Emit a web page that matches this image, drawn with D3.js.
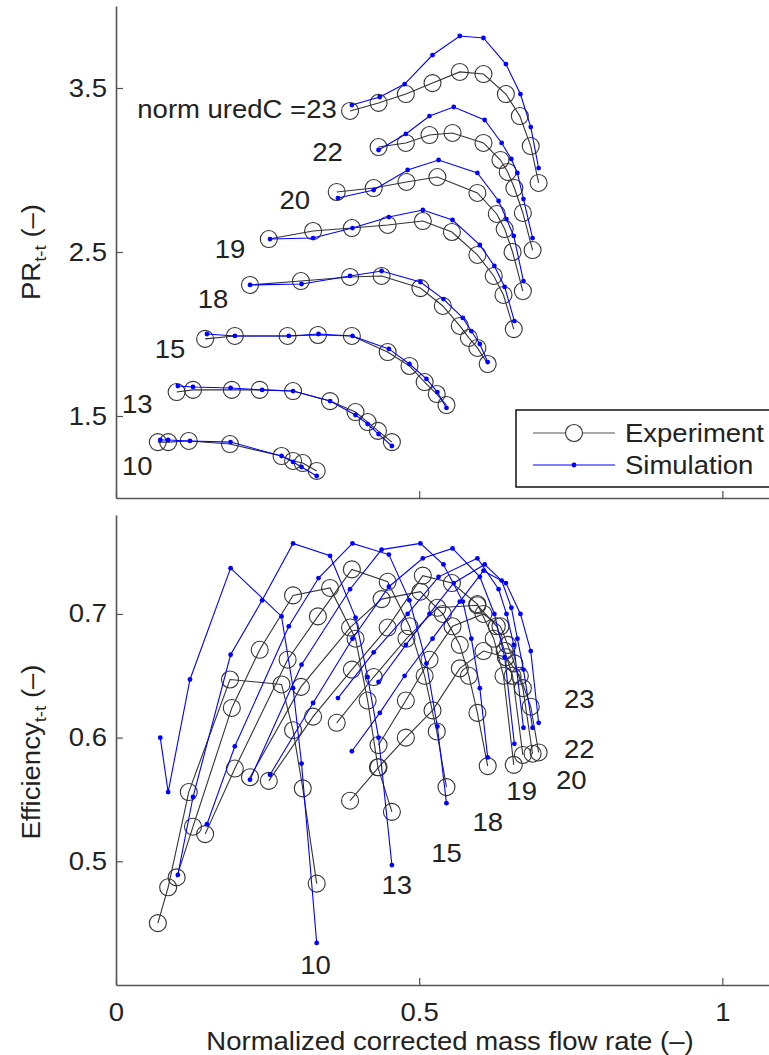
<!DOCTYPE html>
<html>
<head>
<meta charset="utf-8">
<script src="https://cdn.jsdelivr.net/npm/d3@7"></script>
<style>
  body { margin: 0; background: #fff; }
  svg { font-family: "Liberation Sans", Arial, sans-serif; display: block; }
</style>
</head>
<body>
<svg></svg>
<script>
// corrected speed lines (one entry per line, same order everywhere)
const speeds = [10, 13, 15, 18, 19, 20, 22, 23];

const expFlow = [
  [0.069, 0.086, 0.120, 0.188, 0.273, 0.292, 0.308, 0.331],
  [0.100, 0.127, 0.191, 0.237, 0.292, 0.353, 0.395, 0.415, 0.432, 0.455],
  [0.147, 0.196, 0.283, 0.333, 0.389, 0.448, 0.484, 0.509, 0.529, 0.545],
  [0.221, 0.305, 0.386, 0.438, 0.502, 0.539, 0.567, 0.582, 0.596, 0.613],
  [0.252, 0.325, 0.389, 0.448, 0.506, 0.554, 0.596, 0.623, 0.639, 0.656],
  [0.364, 0.425, 0.479, 0.530, 0.596, 0.628, 0.641, 0.654, 0.671],
  [0.433, 0.478, 0.517, 0.555, 0.606, 0.634, 0.646, 0.657, 0.671, 0.687],
  [0.386, 0.433, 0.478, 0.522, 0.567, 0.606, 0.643, 0.666, 0.684, 0.697],
];
const expPR = [
  [1.341, 1.341, 1.348, 1.329, 1.256, 1.226, 1.213, 1.165],
  [1.646, 1.659, 1.659, 1.659, 1.652, 1.591, 1.524, 1.463, 1.409, 1.341],
  [1.970, 1.988, 1.988, 1.994, 1.988, 1.890, 1.805, 1.707, 1.634, 1.567],
  [2.299, 2.323, 2.348, 2.354, 2.280, 2.171, 2.049, 1.976, 1.915, 1.817],
  [2.579, 2.628, 2.646, 2.665, 2.689, 2.622, 2.482, 2.354, 2.238, 2.030],
  [2.866, 2.890, 2.927, 2.957, 2.860, 2.732, 2.640, 2.500, 2.262],
  [3.140, 3.165, 3.213, 3.226, 3.165, 3.061, 2.988, 2.890, 2.738, 2.512],
  [3.360, 3.409, 3.463, 3.530, 3.598, 3.585, 3.463, 3.329, 3.146, 2.921],
];
const expEff = [
  [0.450, 0.479, 0.556, 0.647, 0.643, 0.606, 0.559, 0.482],
  [0.487, 0.528, 0.624, 0.671, 0.715, 0.721, 0.680, 0.630, 0.576, 0.540],
  [0.522, 0.575, 0.663, 0.698, 0.736, 0.726, 0.690, 0.650, 0.605, 0.560],
  [0.568, 0.641, 0.689, 0.712, 0.718, 0.700, 0.675, 0.650, 0.620, 0.577],
  [0.565, 0.617, 0.655, 0.689, 0.731, 0.725, 0.708, 0.680, 0.650, 0.578],
  [0.612, 0.649, 0.680, 0.705, 0.707, 0.690, 0.670, 0.650, 0.586],
  [0.594, 0.630, 0.663, 0.690, 0.700, 0.690, 0.675, 0.660, 0.640, 0.587],
  [0.549, 0.576, 0.600, 0.622, 0.656, 0.670, 0.665, 0.650, 0.625, 0.588],
];

const simFlow = [
  [0.073, 0.086, 0.122, 0.189, 0.273, 0.292, 0.306, 0.331],
  [0.102, 0.127, 0.189, 0.241, 0.292, 0.353, 0.395, 0.415, 0.433, 0.455],
  [0.150, 0.196, 0.285, 0.334, 0.390, 0.450, 0.484, 0.512, 0.530, 0.545],
  [0.221, 0.306, 0.386, 0.438, 0.502, 0.540, 0.572, 0.586, 0.600, 0.613],
  [0.254, 0.325, 0.390, 0.450, 0.506, 0.555, 0.600, 0.624, 0.641, 0.657],
  [0.366, 0.425, 0.481, 0.532, 0.596, 0.631, 0.644, 0.656, 0.672],
  [0.433, 0.478, 0.517, 0.557, 0.608, 0.636, 0.652, 0.662, 0.672, 0.687],
  [0.389, 0.435, 0.476, 0.522, 0.567, 0.606, 0.643, 0.667, 0.684, 0.697],
];
const simPR = [
  [1.354, 1.354, 1.348, 1.341, 1.256, 1.220, 1.189, 1.134],
  [1.683, 1.677, 1.671, 1.659, 1.652, 1.591, 1.506, 1.451, 1.390, 1.317],
  [2.000, 1.988, 1.988, 2.000, 1.988, 1.909, 1.817, 1.726, 1.646, 1.549],
  [2.299, 2.305, 2.354, 2.384, 2.317, 2.213, 2.098, 2.018, 1.939, 1.829],
  [2.579, 2.585, 2.646, 2.713, 2.756, 2.695, 2.543, 2.415, 2.287, 2.079],
  [2.829, 2.878, 3.000, 3.061, 2.982, 2.811, 2.701, 2.598, 2.323],
  [3.122, 3.220, 3.329, 3.384, 3.305, 3.165, 3.067, 2.982, 2.823, 2.585],
  [3.396, 3.445, 3.524, 3.701, 3.817, 3.805, 3.646, 3.463, 3.262, 3.012],
];
const simEff = [
  [0.600, 0.556, 0.647, 0.737, 0.698, 0.640, 0.579, 0.434],
  [0.489, 0.552, 0.667, 0.711, 0.757, 0.747, 0.697, 0.649, 0.600, 0.497],
  [0.530, 0.593, 0.690, 0.729, 0.757, 0.748, 0.711, 0.660, 0.609, 0.547],
  [0.566, 0.659, 0.720, 0.752, 0.757, 0.740, 0.710, 0.680, 0.640, 0.584],
  [0.570, 0.628, 0.680, 0.722, 0.745, 0.753, 0.730, 0.700, 0.665, 0.595],
  [0.632, 0.669, 0.700, 0.730, 0.745, 0.720, 0.700, 0.675, 0.608],
  [0.645, 0.675, 0.700, 0.725, 0.740, 0.727, 0.705, 0.680, 0.655, 0.608],
  [0.589, 0.620, 0.650, 0.680, 0.710, 0.735, 0.725, 0.700, 0.670, 0.612],
];

// ticks
const flowTicks = [0, 0.5, 1];
const prTicks = [1.5, 2.5, 3.5];
const effTicks = [0.5, 0.6, 0.7];

// speed-line annotations, anchored in data units [flow, value]
const prLabelPos = [[0.035, 1.195], [0.035, 1.573], [0.089, 1.909], [0.160, 2.213],
  [0.188, 2.518], [0.295, 2.817], [0.349, 3.110], [0.364, 3.372]];
const effLabelPos = [[0.329, 0.416], [0.463, 0.481], [0.545, 0.507], [0.613, 0.532],
  [0.669, 0.557], [0.751, 0.566], [0.764, 0.591], [0.764, 0.631]];

const W = 769, H = 1055;
const FONT = 25;
const SX = 1.1; // the source font is drawn a little wider than Liberation Sans
const EXP_COLOR = "#333";
const SIM_COLOR = "#0000ff";

const svg = d3.select("svg").attr("width", W).attr("height", H);

const x = d3.scaleLinear().domain([0, 1.1]).range([116, 783]);
const yPR = d3.scaleLinear().domain([1, 4]).range([498, 6]);
const yEff = d3.scaleLinear().domain([0.4, 0.78]).range([985, 515]);

function drawSeries(g, flows, values, y, color, isExp) {
  const line = d3.line().x((d) => x(d[0])).y((d) => y(d[1]));
  flows.forEach((f, i) => {
    const pts = f.map((v, j) => [v, values[i][j]]);
    g.append("path")
      .attr("d", line(pts))
      .attr("fill", "none")
      .attr("stroke", color)
      .attr("stroke-width", 1.1);
    g.selectAll(null)
      .data(pts)
      .join("circle")
      .attr("cx", (d) => x(d[0]))
      .attr("cy", (d) => y(d[1]))
      .attr("r", isExp ? 8.5 : 2.4)
      .attr("fill", isExp ? "none" : color)
      .attr("stroke", isExp ? color : "none")
      .attr("stroke-width", 1.1);
  });
}

function styleAxis(g) {
  g.selectAll(".domain").attr("stroke", "#555").attr("stroke-width", 1.6);
  g.selectAll(".tick line").attr("stroke", "#555").attr("stroke-width", 1.2);
  g.selectAll(".tick text")
    .attr("fill", "#222")
    .style("font-size", FONT + "px")
    .style("font-family", '"Liberation Sans", Arial, sans-serif');
}

function drawPanel(yScale, yTicks, showXLabels, exp, sim, labels, labelPos, lastAnchor) {
  const bottom = yScale.range()[0];
  const g = svg.append("g");

  g.append("g")
    .attr("transform", `translate(0, ${bottom})`)
    .call(d3.axisBottom(x).tickValues(flowTicks).tickSize(-7).tickSizeOuter(0).tickPadding(18)
      .tickFormat(showXLabels ? d3.format("") : () => ""))
    .call(styleAxis);

  g.append("g")
    .attr("transform", `translate(${x(0)}, 0)`)
    .call(d3.axisLeft(yScale).tickValues(yTicks).tickSize(-7).tickSizeOuter(0).tickPadding(9)
      .tickFormat(d3.format(".1f")))
    .call(styleAxis);

  drawSeries(g.append("g"), exp[0], exp[1], yScale, EXP_COLOR, true);
  drawSeries(g.append("g"), sim[0], sim[1], yScale, SIM_COLOR, false);

  g.selectAll("text.speed")
    .data(labels)
    .join("text")
    .attr("class", "speed")
    .attr("x", (d, i) => x(labelPos[i][0]))
    .attr("y", (d, i) => yScale(labelPos[i][1]))
    .attr("dy", "0.36em")
    .attr("text-anchor", (d, i) => (i === labels.length - 1 ? lastAnchor : "middle"))
    .attr("fill", "#222")
    .style("font-size", FONT + "px")
    .text((d) => d);
}

// top panel: pressure ratio
const prLabels = speeds.map((s, i) => (i === speeds.length - 1 ? `norm uredC =${s}` : `${s}`));
drawPanel(yPR, prTicks, false, [expFlow, expPR], [simFlow, simPR], prLabels, prLabelPos, "end");

// bottom panel: efficiency
drawPanel(yEff, effTicks, true, [expFlow, expEff], [simFlow, simEff],
  speeds.map(String), effLabelPos, "middle");

// y labels with subscripts
function yLabel(cy, main) {
  const t = svg.append("text")
    .attr("transform", `translate(40, ${cy}) rotate(-90)`)
    .attr("text-anchor", "middle")
    .attr("fill", "#222")
    .style("font-size", FONT + "px");
  t.append("tspan").text(main);
  t.append("tspan").attr("dy", 6).style("font-size", "17px").text("t-t");
  t.append("tspan").attr("dy", -6).text(" (\u2013)");
}
yLabel(252, "PR");
yLabel(752, "Efficiency");

// x label
svg.append("text")
  .attr("x", 450)
  .attr("y", 1050)
  .attr("text-anchor", "middle")
  .attr("fill", "#222")
  .style("font-size", FONT + "px")
  .text("Normalized corrected mass flow rate (\u2013)");

// legend
const lg = svg.append("g").attr("transform", "translate(516, 410)");
lg.append("rect")
  .attr("width", 300).attr("height", 77)
  .attr("fill", "#fff").attr("stroke", "#111").attr("stroke-width", 1.5);
const entries = [
  { name: "Experiment", color: "#555", exp: true, y: 23 },
  { name: "Simulation", color: SIM_COLOR, exp: false, y: 55 },
];
entries.forEach((e) => {
  lg.append("line")
    .attr("x1", 17).attr("x2", 99).attr("y1", e.y).attr("y2", e.y)
    .attr("stroke", e.color).attr("stroke-width", 1.2);
  lg.append("circle")
    .attr("cx", 58).attr("cy", e.y)
    .attr("r", e.exp ? 8.5 : 2.4)
    .attr("fill", e.exp ? "#fff" : e.color)
    .attr("stroke", e.exp ? "#333" : "none")
    .attr("stroke-width", 1.1);
  lg.append("text")
    .attr("x", 109).attr("y", e.y).attr("dy", "0.36em")
    .attr("fill", "#222")
    .style("font-size", FONT + "px")
    .text(e.name);
});

// widen every text horizontally along its own writing direction
svg.selectAll("text").each(function () {
  const t = d3.select(this);
  const xv = +t.attr("x") || 0;
  const tr = t.attr("transform") || "";
  t.attr("x", xv / SX).attr("transform", `${tr} scale(${SX},1)`);
});
</script>
</body>
</html>
